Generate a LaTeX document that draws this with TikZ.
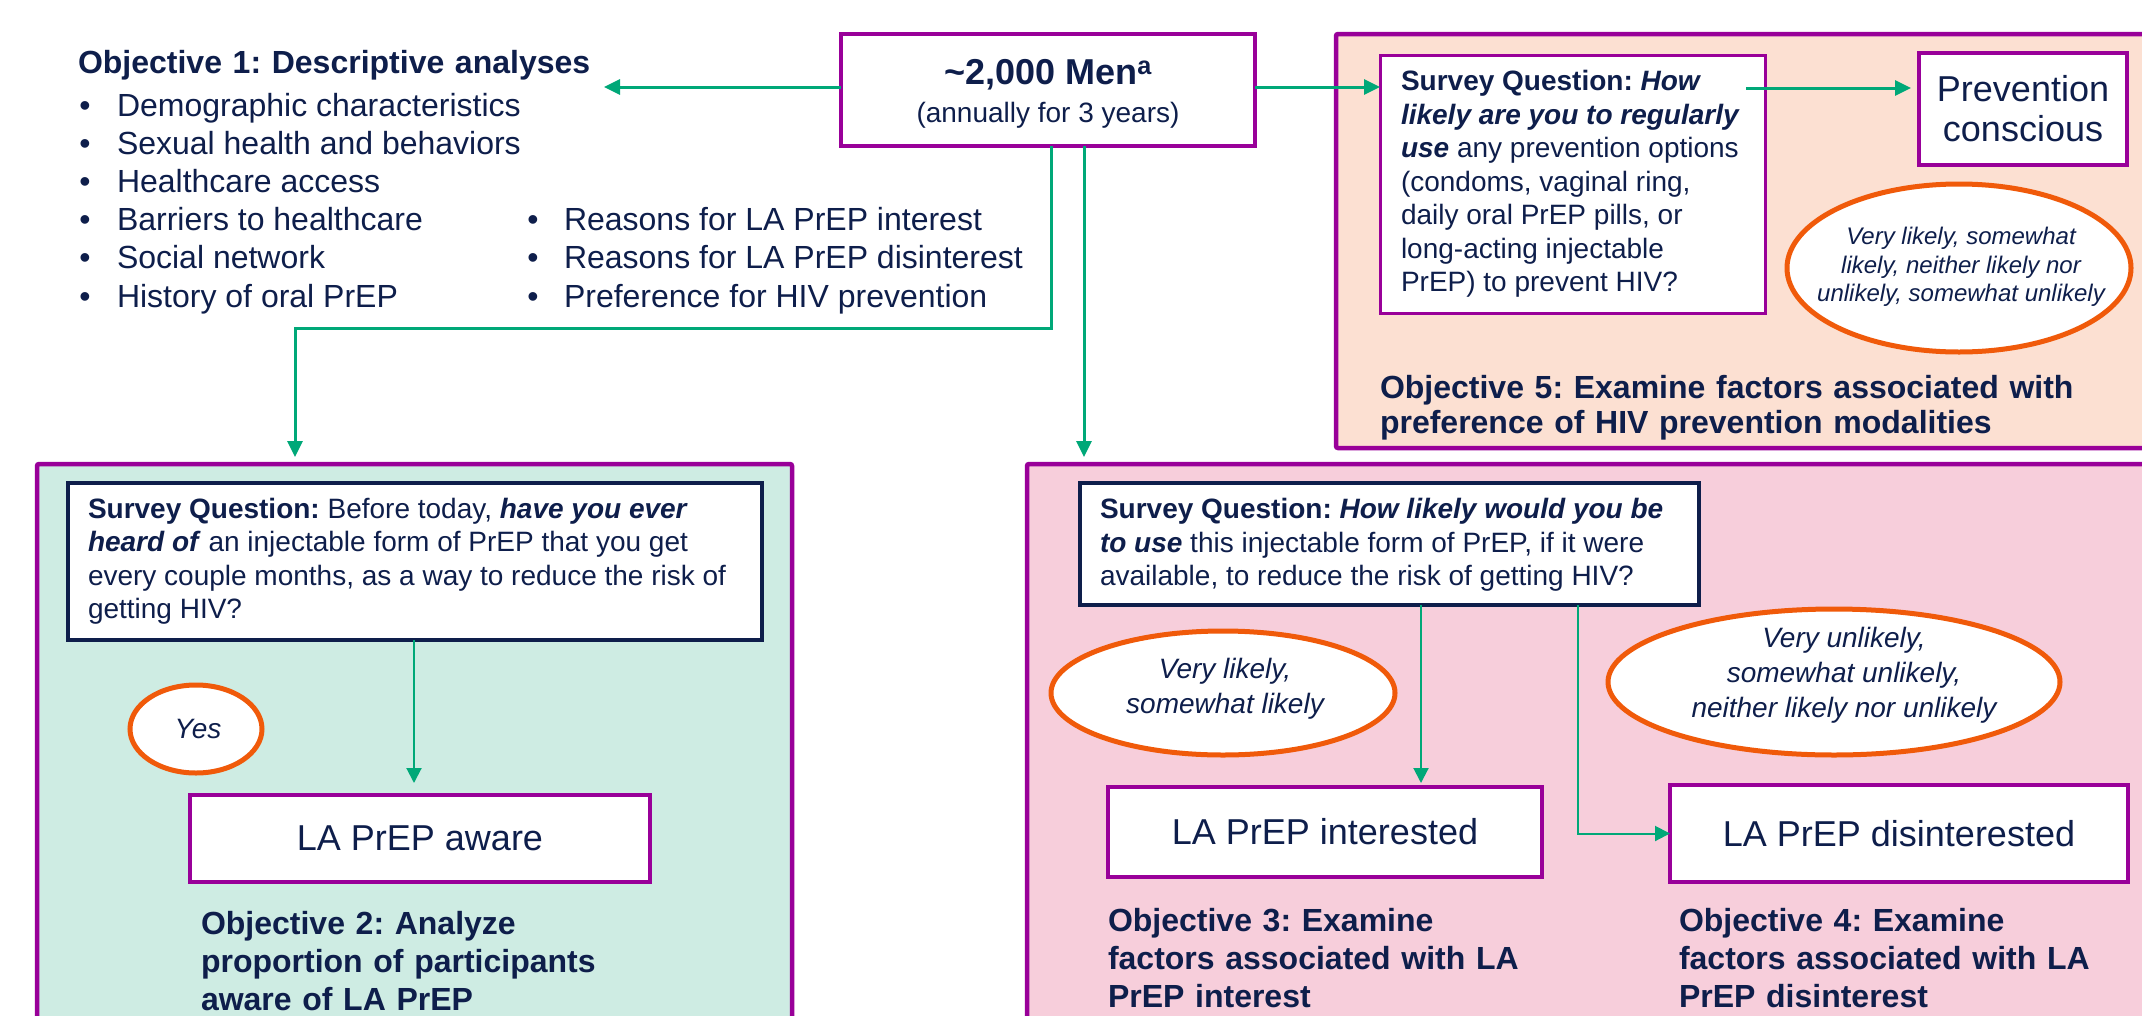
\documentclass[tikz,border=0pt]{standalone}
\usepackage{fontspec}
\setmainfont{Liberation Sans}
\usetikzlibrary{arrows.meta,shapes.geometric}
\definecolor{navy}{HTML}{0E1E4B}
\definecolor{purp}{HTML}{990099}
\definecolor{grn}{HTML}{00A878}
\definecolor{orng}{HTML}{F05A0A}
\definecolor{peach}{HTML}{FCE0D2}
\definecolor{pinkf}{HTML}{F7CEDB}
\definecolor{mint}{HTML}{CEECE3}
\frenchspacing
\hyphenpenalty=10000
\exhyphenpenalty=10000
\begin{document}
\begin{tikzpicture}[x=1pt,y=-1pt,
  every node/.append style={text=navy, inner sep=0pt, outer sep=0pt},
  panel/.style={draw=purp, line width=4.5pt, rounded corners=2pt, anchor=north west},
  purpbox/.style={draw=purp, line width=4pt, fill=white},
  navybox/.style={draw=navy, line width=4pt, fill=white},
  oval/.style={draw=orng, line width=5pt, fill=white, ellipse},
  fsmall/.style={font=\fontsize{28}{33.5}\selectfont, align=left},
  fbig/.style={font=\fontsize{36}{40}\selectfont},
  fobj/.style={font=\fontsize{32}{38}\selectfont\bfseries, align=left, text width=720, anchor=base west},
  fitem/.style={font=\fontsize{32}{38}\selectfont, anchor=base west},
  garrowT/.style={draw=grn, line width=3pt, -{Triangle[length=16pt,width=15pt]}},
  garrow/.style={draw=grn, line width=2pt, -{Triangle[length=15pt,width=15pt]}}
]
\path[use as bounding box, clip] (0,0) rectangle (2142,1015);
\fill[white] (0,0) rectangle (2142,1015);

% panels
\node[panel, fill=peach, minimum width=830, minimum height=414] (p5) at (1336,34) {};
\node[panel, fill=mint, minimum width=755, minimum height=600] (p2) at (37,464) {};
\node[panel, fill=pinkf, minimum width=1130, minimum height=600] (p34) at (1027,464) {};

% top box
\node[purpbox, minimum width=414, minimum height=112] (men) at (1048,90) {};
\node[anchor=base, font=\fontsize{36}{41}\selectfont\bfseries] (men1) at (1048,84)
  {\textasciitilde2,000 Men\textsuperscript{a}};
\node[anchor=base, font=\fontsize{28}{34}\selectfont] (men2) at (1048,122)
  {(annually for 3 years)};

% objective 1
\node[fobj] (o1) at (78,73) {Objective 1: Descriptive analyses};
\foreach \t [count=\i from 0] in {Demographic characteristics, Sexual health and behaviors, Healthcare access, Barriers to healthcare, Social network, History of oral PrEP} {
  \node[fitem] (la\i) at (117,116.5+38.1*\i) {\t};
  \node[fitem, anchor=base] (ba\i) at (85,116.5+38.1*\i) {\textbullet};
}
\foreach \t [count=\i from 3] in {Reasons for LA PrEP interest, Reasons for LA PrEP disinterest, Preference for HIV prevention} {
  \node[fitem] (lb\i) at (564,116.5+38.1*\i) {\t};
  \node[fitem, anchor=base] (bb\i) at (533,116.5+38.1*\i) {\textbullet};
}

% objective 5 panel content
\node[purpbox, line width=3pt, minimum width=385, minimum height=258] (sq5) at (1572.5,184) {};
\node[fsmall, anchor=west] (sq5t) at ([xshift=21pt]sq5.west)
  {\textbf{Survey Question: \textit{How}}\\
   \textbf{\textit{likely are you to regularly}}\\
   \textbf{\textit{use}} any prevention options\\
   (condoms, vaginal ring,\\
   daily oral PrEP pills, or\\
   long-acting injectable\\
   PrEP) to prevent HIV?};
\node[purpbox, minimum width=208, minimum height=112, fbig, align=center] (pc) at (2023,109)
  {Prevention\\conscious};
\node[oval, minimum width=344, minimum height=168] (e5) at (1959,268) {};
\node[align=center, font=\fontsize{24}{28.5}\selectfont\itshape] (e5t) at (1961,267)
  {Very likely, somewhat\\likely, neither likely nor\\unlikely, somewhat unlikely};
\node[fobj, font=\fontsize{32}{35}\selectfont\bfseries] (o5) at (1380,398)
  {Objective 5: Examine factors associated with\\preference of HIV prevention modalities};

% objective 2 panel content
\node[navybox, minimum width=694, minimum height=157] (sq2) at (415,561.5) {};
\node[fsmall, anchor=west] (sq2t) at ([xshift=20pt]sq2.west)
  {\textbf{Survey Question:} Before today, \textbf{\textit{have you ever}}\\
   \textbf{\textit{heard of}} an injectable form of PrEP that you get\\
   every couple months, as a way to reduce the risk of\\
   getting HIV?};
\node[oval, minimum width=132, minimum height=88] (yes) at (196,729) {};
\node[font=\fontsize{28}{33.5}\selectfont\itshape] (yest) at (198,729) {Yes};
\node[purpbox, minimum width=460, minimum height=87, fbig] (aware) at (420,838) {LA PrEP aware};
\node[fobj] (o2) at (201,934) {Objective 2: Analyze\\proportion of participants\\aware of LA PrEP};

% objective 3/4 panel content
\node[navybox, minimum width=619, minimum height=122] (sq34) at (1389.5,544) {};
\node[fsmall, anchor=west] (sq34t) at ([xshift=20pt,yshift=-1pt]sq34.west)
  {\textbf{Survey Question: \textit{How likely would you be}}\\
   \textbf{\textit{to use}} this injectable form of PrEP, if it were\\
   available, to reduce the risk of getting HIV?};
\node[oval, minimum width=344, minimum height=124] (e3) at (1223,693) {};
\node[align=center, font=\fontsize{28}{35}\selectfont\itshape] (e3t) at (1225,689)
  {Very likely,\\somewhat likely};
\node[oval, minimum width=452, minimum height=146] (e4) at (1834,682) {};
\node[align=center, font=\fontsize{28}{35}\selectfont\itshape] (e4t) at (1844,675)
  {Very unlikely,\\somewhat unlikely,\\neither likely nor unlikely};
\node[purpbox, minimum width=434, minimum height=90, fbig] (int) at (1325,832) {LA PrEP interested};
\node[purpbox, minimum width=458, minimum height=97, fbig] (dis) at (1899,833.5) {LA PrEP disinterested};
\node[fobj] (o3) at (1108,931) {Objective 3: Examine\\factors associated with LA\\PrEP interest};
\node[fobj] (o4) at (1679,931) {Objective 4: Examine\\factors associated with LA\\PrEP disinterest};

% connectors
\coordinate (c1) at (604,87);
\draw[garrowT] (men.west |- c1) -- (c1);
\draw[garrowT] (men.east |- c1) -- (sq5.west |- c1);
\coordinate (b1) at (1051,328);
\coordinate (t2) at (295,457);
\draw[garrowT] (men.south -| b1) -- (b1) -| (t2);
\coordinate (t34) at (1084,457);
\draw[garrowT] (men.south -| t34) -- (t34);
\coordinate (p1) at (1746,88);
\coordinate (p2) at (1911,88);
\draw[garrowT] (p1) -- (p2);
\coordinate (a2) at (414,783);
\draw[garrow] (sq2.south -| a2) -- (a2);
\coordinate (a3) at (1421,783);
\draw[garrow] (sq34.south -| a3) -- (a3);
\coordinate (k4) at (1578,833);
\draw[garrow] (sq34.south -| k4) |- (dis.west);
\end{tikzpicture}
\end{document}
